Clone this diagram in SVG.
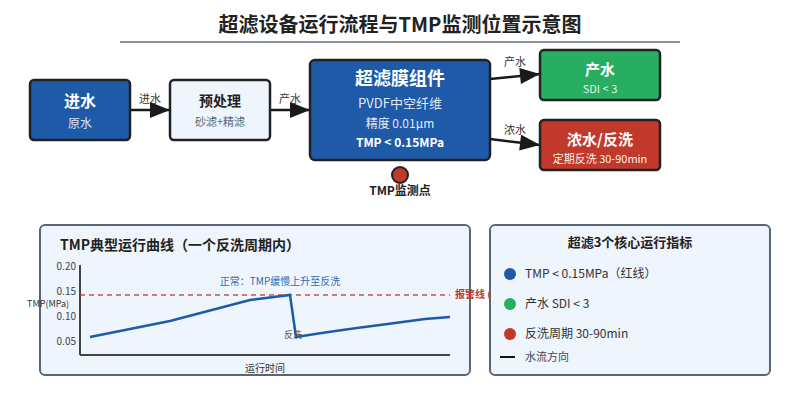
<svg xmlns="http://www.w3.org/2000/svg" width="800" height="400" viewBox="0 0 800 400">
<defs>
<marker id="ah2" viewBox="0 0 10 8" markerWidth="22" markerHeight="16" refX="10" refY="4" orient="auto" markerUnits="userSpaceOnUse">
<path d="M0,0 L10,4 L0,8 Z" fill="#1a1a1a"/>
</marker>
<style>
text{font-family:"Noto Sans CJK SC","Noto Sans",sans-serif;}
.node{stroke:#222;stroke-width:2.5;}
.blue{fill:#1f5aa8;}
.light{fill:#eef5fd;}
.green{fill:#27ae60;}
.red{fill:#c0392b;}
.wt{fill:#fff;text-anchor:middle;}
.dt{fill:#222;text-anchor:middle;}
.conn{stroke:#1a1a1a;stroke-width:2.5;fill:none;marker-end:url(#ah2);}
.cl{font-size:11px;fill:#333;text-anchor:middle;}
.panel{fill:#eef5fd;stroke:#5a6675;stroke-width:2;}
.tick{font-size:10px;fill:#444;text-anchor:end;}
.leg{font-size:12px;fill:#333;}
</style>
</defs>
<rect width="800" height="400" fill="#fff"/>
<g id="title">
<text x="400" y="32" text-anchor="middle" font-size="20" font-weight="bold" fill="#222">超滤设备运行流程与TMP监测位置示意图</text>
<line x1="120" y1="42" x2="680" y2="42" stroke="#8a929c" stroke-width="2"/>
</g>
<g id="connectors">
<line class="conn" x1="130" y1="110" x2="170" y2="110"/>
<text class="cl" x="150" y="103">进水</text>
<line class="conn" x1="270" y1="110" x2="310" y2="110"/>
<text class="cl" x="290" y="103">产水</text>
<line class="conn" x1="490" y1="79" x2="540" y2="74"/>
<text class="cl" x="515" y="66">产水</text>
<line class="conn" x1="490" y1="139" x2="540" y2="145"/>
<text class="cl" x="515" y="134">浓水</text>
</g>
<g id="n-in">
<rect class="node blue" x="30" y="80" width="100" height="60" rx="4"/>
<text class="wt" x="80" y="107" font-size="16" font-weight="bold">进水</text>
<text class="wt" x="80" y="128" font-size="12" fill-opacity="0.85">原水</text>
</g>
<g id="n-pre">
<rect class="node light" x="170" y="80" width="100" height="60" rx="4"/>
<text class="dt" x="220" y="106" font-size="14" font-weight="bold">预处理</text>
<text x="220" y="126" font-size="11" fill="#5a6675" text-anchor="middle">砂滤+精滤</text>
</g>
<g id="n-uf">
<rect class="node blue" x="310" y="60" width="180" height="100" rx="5"/>
<text class="wt" x="400" y="85" font-size="18" font-weight="bold">超滤膜组件</text>
<text class="wt" x="400" y="108" font-size="13" fill-opacity="0.9">PVDF中空纤维</text>
<text class="wt" x="400" y="128" font-size="12" fill-opacity="0.9">精度 0.01μm</text>
<text class="wt" x="400" y="147" font-size="12" font-weight="bold">TMP &lt; 0.15MPa</text>
</g>
<g id="n-prod">
<rect class="node green" x="540" y="50" width="120" height="50" rx="4"/>
<text class="wt" x="600" y="75" font-size="15" font-weight="bold">产水</text>
<text class="wt" x="600" y="93" font-size="11" fill-opacity="0.9">SDI &lt; 3</text>
</g>
<g id="n-conc">
<rect class="node red" x="540" y="120" width="120" height="50" rx="4"/>
<text class="wt" x="600" y="145" font-size="15" font-weight="bold">浓水/反洗</text>
<text class="wt" x="600" y="163" font-size="11" fill-opacity="0.95">定期反洗 30-90min</text>
</g>
<g id="n-tmp">
<circle cx="400" cy="175" r="8" fill="#c0392b" stroke="#222" stroke-width="2"/>
<text x="400" y="195" font-size="12" font-weight="bold" fill="#222" text-anchor="middle">TMP监测点</text>
</g>
<g id="chart">
<rect class="panel" x="40" y="225" width="430" height="150" rx="5"/>
<text x="60" y="250" font-size="14" font-weight="bold" fill="#222">TMP典型运行曲线（一个反洗周期内）</text>
<line x1="80" y1="265" x2="80" y2="355" stroke="#444" stroke-width="2"/>
<line x1="80" y1="355" x2="450" y2="355" stroke="#444" stroke-width="2"/>
<text class="tick" x="76" y="270">0.20</text>
<text class="tick" x="76" y="295">0.15</text>
<text class="tick" x="76" y="320">0.10</text>
<text class="tick" x="76" y="345">0.05</text>
<text x="27" y="307" font-size="9" fill="#333">TMP(MPa)</text>
<line x1="80" y1="295" x2="450" y2="295" stroke="#c0392b" stroke-width="1.5" stroke-dasharray="5,4" opacity="0.85"/>
<text x="455" y="298" font-size="10" font-weight="bold" fill="#c0392b">报警线 (0.15MPa)</text>
<text x="280" y="285" font-size="10" fill="#2f6bb8" text-anchor="middle">正常：TMP缓慢上升至反洗</text>
<path d="M90,337 L170,321 Q220,308 250,300 L290,295 L296,337 Q340,330 380,325 L425,319 L450,317" fill="none" stroke="#1f5aa8" stroke-width="2.5"/>
<text x="293" y="338" font-size="9" fill="#555" text-anchor="middle">反洗</text>
<text x="265" y="372" font-size="10" fill="#333" text-anchor="middle">运行时间</text>
</g>
<g id="legend">
<rect class="panel" x="490" y="225" width="280" height="150" rx="5"/>
<text x="630" y="247" font-size="13" font-weight="bold" fill="#222" text-anchor="middle">超滤3个核心运行指标</text>
<circle cx="510" cy="274" r="6" fill="#1f5aa8"/>
<text class="leg" x="525" y="278">TMP &lt; 0.15MPa（红线）</text>
<circle cx="510" cy="304" r="6" fill="#27ae60"/>
<text class="leg" x="525" y="308">产水 SDI &lt; 3</text>
<circle cx="510" cy="334" r="6" fill="#c0392b"/>
<text class="leg" x="525" y="338">反洗周期 30-90min</text>
<line x1="500" y1="357" x2="515" y2="357" stroke="#111" stroke-width="2"/>
<text x="525" y="361" font-size="11" fill="#445">水流方向</text>
</g>
</svg>
